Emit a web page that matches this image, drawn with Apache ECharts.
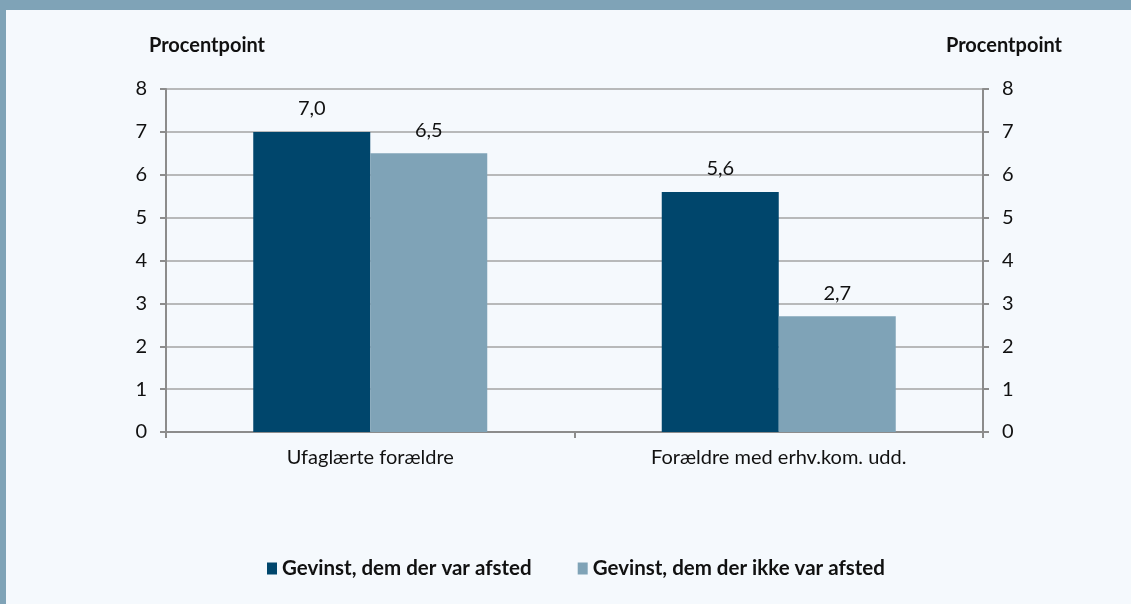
<!DOCTYPE html>
<html>
<head>
<meta charset="utf-8">
<script src="https://cdn.jsdelivr.net/npm/echarts@6/dist/echarts.min.js"></script>
<style>
  html, body { margin: 0; padding: 0; background: #f5f9fd; }
  #chart { width: 1131px; height: 604px; }
</style>
</head>
<body>
<div id="chart"></div>
<script>
var categories = ["Ufaglærte forældre", "Forældre med erhv.kom. udd."];
var seriesNames = ["Gevinst, dem der var afsted", "Gevinst, dem der ikke var afsted"];
var afsted = [7.0, 5.6];
var ikkeAfsted = [6.5, 2.7];
var yTicks = [0, 1, 2, 3, 4, 5, 6, 7, 8];

var color = ["#00466c", "#7fa3b7"];
var axisGrey = "#8c8c8c";
var font = "Lato, 'Noto Sans', sans-serif";

function fmt(v) {
   return v.toFixed(1).replace(".", ",");
}

var chart = echarts.init(document.getElementById("chart"));

function yAxisCfg(pos) {
   return {
      type: "value",
      position: pos,
      min: yTicks[0],
      max: yTicks[yTicks.length - 1],
      interval: 1,
      name: "Procentpoint",
      nameLocation: "end",
      nameGap: 33,
      nameTextStyle: {
         fontFamily: font,
         fontWeight: "bold",
         fontSize: 20,
         color: "#111",
         align: "center",
         padding: pos === "left" ? [0, 0, 0, 82] : [0, 0, 0, 42]
      },
      axisLine: { show: true, lineStyle: { color: axisGrey, width: 2 } },
      axisTick: { show: true, length: 6, lineStyle: { color: axisGrey, width: 2 } },
      axisLabel: {
         fontFamily: font,
         fontSize: 20,
         color: "#111",
         margin: 19
      },
      splitLine: { show: pos === "left", lineStyle: { color: "#a3a3a3", width: 1.5 } }
   };
}

var labelCfg = {
   show: true, position: "top", distance: 13,
   fontFamily: font, fontSize: 20, color: "#111",
   formatter: function (p) { return fmt(p.value); }
};

var option = {
   backgroundColor: "#f5f9fd",
   animation: false,
   graphic: [
      { type: "rect", left: 0, top: 0, shape: { width: 1131, height: 10 }, style: { fill: "#7fa3b7" } },
      { type: "rect", left: 0, top: 0, shape: { width: 6, height: 604 }, style: { fill: "#7fa3b7" } }
   ],
   grid: { left: 166, right: 148, top: 89, bottom: 172, containLabel: false },
   legend: {
      top: 553,
      left: 262,
      itemWidth: 10,
      itemHeight: 12,
      itemGap: 46,
      icon: "rect",
      textStyle: { fontFamily: font, fontWeight: "bold", fontSize: 20.5, color: "#111" },
      data: seriesNames
   },
   xAxis: {
      type: "category",
      data: categories,
      axisLine: { lineStyle: { color: axisGrey, width: 2 } },
      axisTick: { show: true, length: 6, lineStyle: { color: axisGrey, width: 2 } },
      axisLabel: { fontFamily: font, fontSize: 20, color: "#111", margin: 16 }
   },
   yAxis: [yAxisCfg("left"), yAxisCfg("right")],
   series: [
      {
         name: seriesNames[0],
         type: "bar",
         data: afsted,
         barWidth: 117,
         barGap: "0%",
         itemStyle: { color: color[0] },
         label: labelCfg
      },
      {
         name: seriesNames[1],
         type: "bar",
         data: ikkeAfsted,
         barWidth: 117,
         barGap: "0%",
         itemStyle: { color: color[1] },
         label: labelCfg
      }
   ]
};

chart.setOption(option);
</script>
</body>
</html>
